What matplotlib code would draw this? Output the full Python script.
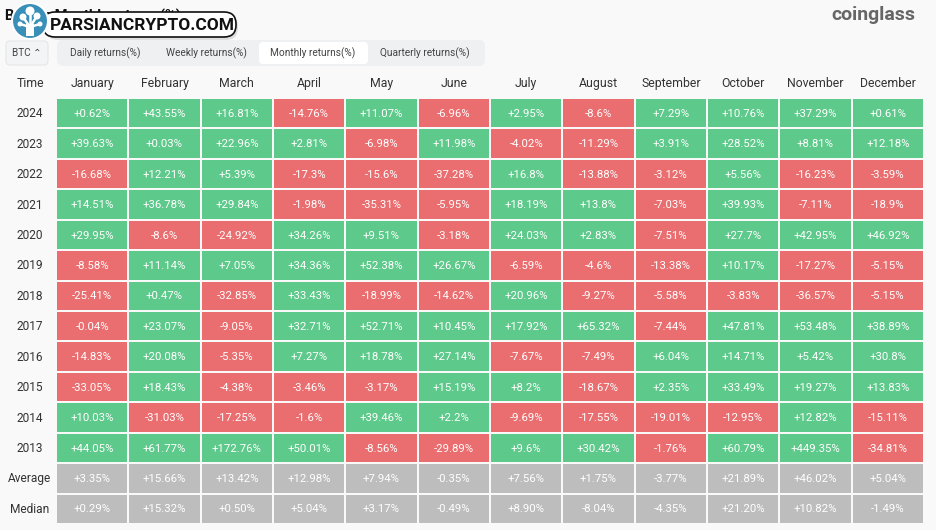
import matplotlib
matplotlib.use("Agg")
import matplotlib.pyplot as plt
from matplotlib.patches import Rectangle, FancyBboxPatch, Circle

months = ["January", "February", "March", "April", "May", "June", "July",
          "August", "September", "October", "November", "December"]
row_labels = ["2024", "2023", "2022", "2021", "2020", "2019", "2018", "2017",
              "2016", "2015", "2014", "2013", "Average", "Median"]

r2024 = ["+0.62%", "+43.55%", "+16.81%", "-14.76%", "+11.07%", "-6.96%", "+2.95%", "-8.6%", "+7.29%", "+10.76%", "+37.29%", "+0.61%"]
r2023 = ["+39.63%", "+0.03%", "+22.96%", "+2.81%", "-6.98%", "+11.98%", "-4.02%", "-11.29%", "+3.91%", "+28.52%", "+8.81%", "+12.18%"]
r2022 = ["-16.68%", "+12.21%", "+5.39%", "-17.3%", "-15.6%", "-37.28%", "+16.8%", "-13.88%", "-3.12%", "+5.56%", "-16.23%", "-3.59%"]
r2021 = ["+14.51%", "+36.78%", "+29.84%", "-1.98%", "-35.31%", "-5.95%", "+18.19%", "+13.8%", "-7.03%", "+39.93%", "-7.11%", "-18.9%"]
r2020 = ["+29.95%", "-8.6%", "-24.92%", "+34.26%", "+9.51%", "-3.18%", "+24.03%", "+2.83%", "-7.51%", "+27.7%", "+42.95%", "+46.92%"]
r2019 = ["-8.58%", "+11.14%", "+7.05%", "+34.36%", "+52.38%", "+26.67%", "-6.59%", "-4.6%", "-13.38%", "+10.17%", "-17.27%", "-5.15%"]
r2018 = ["-25.41%", "+0.47%", "-32.85%", "+33.43%", "-18.99%", "-14.62%", "+20.96%", "-9.27%", "-5.58%", "-3.83%", "-36.57%", "-5.15%"]
r2017 = ["-0.04%", "+23.07%", "-9.05%", "+32.71%", "+52.71%", "+10.45%", "+17.92%", "+65.32%", "-7.44%", "+47.81%", "+53.48%", "+38.89%"]
r2016 = ["-14.83%", "+20.08%", "-5.35%", "+7.27%", "+18.78%", "+27.14%", "-7.67%", "-7.49%", "+6.04%", "+14.71%", "+5.42%", "+30.8%"]
r2015 = ["-33.05%", "+18.43%", "-4.38%", "-3.46%", "-3.17%", "+15.19%", "+8.2%", "-18.67%", "+2.35%", "+33.49%", "+19.27%", "+13.83%"]
r2014 = ["+10.03%", "-31.03%", "-17.25%", "-1.6%", "+39.46%", "+2.2%", "-9.69%", "-17.55%", "-19.01%", "-12.95%", "+12.82%", "-15.11%"]
r2013 = ["+44.05%", "+61.77%", "+172.76%", "+50.01%", "-8.56%", "-29.89%", "+9.6%", "+30.42%", "-1.76%", "+60.79%", "+449.35%", "-34.81%"]
average = ["+3.35%", "+15.66%", "+13.42%", "+12.98%", "+7.94%", "-0.35%", "+7.56%", "+1.75%", "-3.77%", "+21.89%", "+46.02%", "+5.04%"]
median = ["+0.29%", "+15.32%", "+0.50%", "+5.04%", "+3.17%", "-0.49%", "+8.90%", "-8.04%", "-4.35%", "+21.20%", "+10.82%", "-1.49%"]

rows = [r2024, r2023, r2022, r2021, r2020, r2019, r2018, r2017, r2016,
        r2015, r2014, r2013, average, median]

GREEN = "#5dc98a"
RED = "#ea6d6f"
GRAY = "#bdbdbd"
BG = "#f9f9fa"

W, H = 937, 530
fig = plt.figure(figsize=(W / 100, H / 100), dpi=100, facecolor=BG)

def fx(px):
    return px / W

def fy(py):
    return 1 - py / H

# table axes: x 56..924 px, y 98..524 px
x0, x1, y0, y1 = 56, 924, 98, 524
ax = fig.add_axes([fx(x0), fy(y1), fx(x1 - x0), (y1 - y0) / H])
ax.set_xlim(0, 12)
ax.set_ylim(len(rows), 0)
ax.axis("off")

colw = (x1 - x0) / 12
rowh = (y1 - y0) / len(rows)
gx = 1.0 / colw
gy = 1.0 / rowh

cellfont = dict(family=["Roboto", "DejaVu Sans"], fontsize=8.2, color="white")
for i, row in enumerate(rows):
    for j, txt in enumerate(row):
        if i >= 12:
            c = GRAY
        else:
            c = GREEN if txt.startswith("+") else RED
        ax.add_patch(Rectangle((j + gx, i + gy), 1 - 2 * gx, 1 - 2 * gy,
                               facecolor=c, edgecolor="none"))
        ax.text(j + 0.5, i + 0.52, txt, ha="center", va="center", **cellfont)
    ax.text((30 - x0) / colw, i + 0.52, row_labels[i], ha="center", va="center",
            family=["Roboto", "DejaVu Sans"], fontsize=8.6, color="#333333",
            clip_on=False)

hy = (87 - y0) / rowh
for j, m in enumerate(months):
    ax.text(j + 0.5, hy, m, ha="center", va="baseline",
            family=["Roboto", "DejaVu Sans"], fontsize=8.8, color="#333333",
            clip_on=False)
ax.text((30 - x0) / colw, hy, "Time", ha="center", va="baseline",
        family=["Roboto", "DejaVu Sans"], fontsize=8.8, color="#333333",
        clip_on=False)

# top UI
ov = fig.add_axes([0, 0, 1, 1], zorder=5)
ov.set_xlim(0, W)
ov.set_ylim(H, 0)
ov.axis("off")
ov.patch.set_alpha(0)

# title (partially hidden behind the watermark)
ov.text(5, 16, "Bitcoin Monthly returns(%)", ha="left", va="center",
        fontsize=10.5, fontweight="bold", color="#111111", family="Roboto")

# coinglass
ov.text(915, 15, "coinglass", ha="right", va="center", fontsize=14,
        fontweight="bold", color="#666666", family="Roboto")

# BTC selector
ov.add_patch(FancyBboxPatch((6, 41), 42, 24, boxstyle="round,pad=0,rounding_size=4",
                            facecolor="#f3f4f6", edgecolor="#e6e6e8", lw=0.8))
ov.text(12, 53, "BTC \u2303", ha="left", va="center", fontsize=7.2, color="#444444",
        family=["Roboto", "DejaVu Sans"])

# tab group
ov.add_patch(FancyBboxPatch((57, 40), 428, 26, boxstyle="round,pad=0,rounding_size=6",
                            facecolor="#eef0f2", edgecolor="none"))
ov.add_patch(FancyBboxPatch((259, 42), 109, 22, boxstyle="round,pad=0,rounding_size=4",
                            facecolor="white", edgecolor="none"))
tabs = [("Daily returns(%)", 105), ("Weekly returns(%)", 206),
        ("Monthly returns(%)", 313), ("Quarterly returns(%)", 425)]
for t, xc in tabs:
    ov.text(xc, 53, t, ha="center", va="center", fontsize=7.3, color="#444444",
            family=["Roboto", "DejaVu Sans"])

# watermark
ov.add_patch(FancyBboxPatch((46, 14), 192, 26, boxstyle="round,pad=0,rounding_size=12",
                            facecolor="#cfcfcf", edgecolor="none", alpha=0.6, zorder=6))
ov.add_patch(FancyBboxPatch((43, 12), 193, 25, boxstyle="round,pad=0,rounding_size=12",
                            facecolor="white", edgecolor="#111111", lw=1.2, zorder=6))
ov.text(50, 25, "PARSIANCRYPTO.COM", ha="left", va="center", fontsize=12.5,
        fontweight="bold", color="#111111", family="Roboto", zorder=7)
ov.add_patch(Circle((30, 21), 18, facecolor="#3a8fb8", edgecolor="white", lw=1.5, zorder=8))
# simple tree icon
ov.add_patch(Rectangle((26, 24), 8, 12, facecolor="white", zorder=9))
for cx, cy, r in [(30, 11, 4.5), (23, 17, 3.5), (37, 16, 3.5), (20, 24, 2.5), (40, 24, 2.5)]:
    ov.add_patch(Circle((cx, cy), r, facecolor="white", edgecolor="none", zorder=9))
    ov.plot([30, cx], [27, cy], color="white", lw=1.8, zorder=9)

fig.savefig("out.png", dpi=100, facecolor=BG)
